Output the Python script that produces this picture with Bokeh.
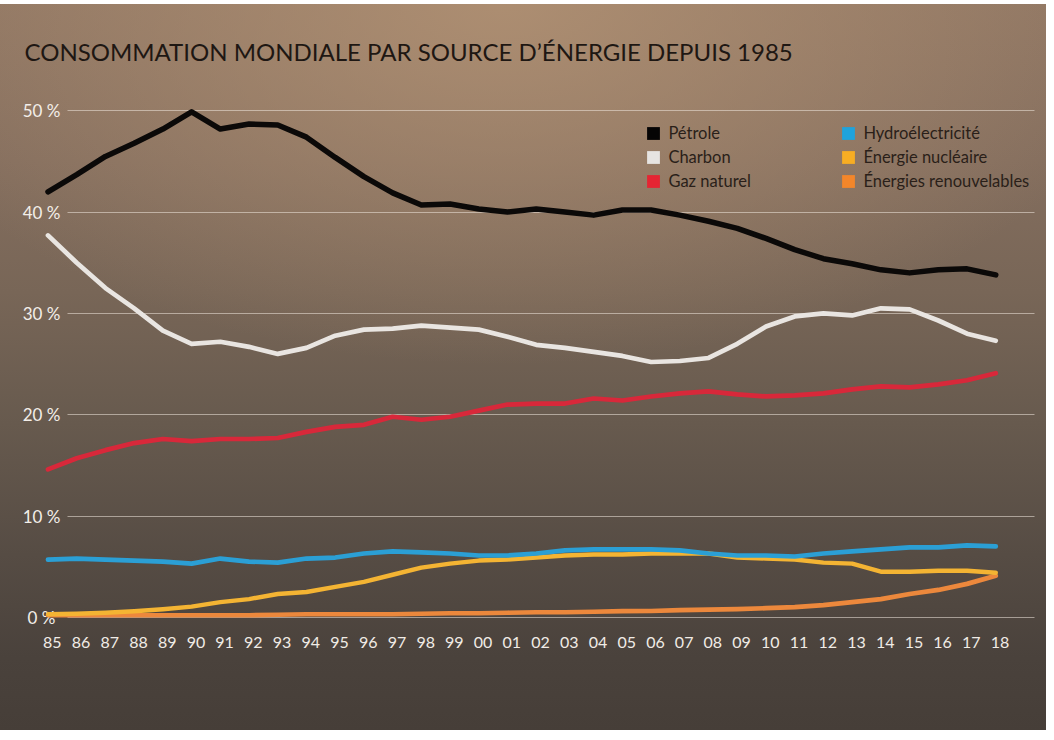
from bokeh.plotting import figure
from bokeh.models import Range1d, FixedTicker, Legend, LegendItem, Label, CustomJSTickFormatter
from bokeh.core.properties import value
from bokeh.embed import file_html
from bokeh.resources import INLINE

# ---------------- data ----------------
years = list(range(1985, 2019))
tick_labels = ["85", "86", "87", "88", "89", "90", "91", "92", "93", "94", "95", "96",
               "97", "98", "99", "00", "01", "02", "03", "04", "05", "06", "07", "08",
               "09", "10", "11", "12", "13", "14", "15", "16", "17", "18"]

petrole = [42.0, 43.7, 45.5, 46.8, 48.2, 49.9, 48.2, 48.7, 48.6, 47.4, 45.4, 43.5,
           41.9, 40.7, 40.8, 40.3, 40.0, 40.3, 40.0, 39.7, 40.2, 40.2, 39.7, 39.1,
           38.4, 37.4, 36.3, 35.4, 34.9, 34.3, 34.0, 34.3, 34.4, 33.8]
charbon = [37.7, 35.0, 32.5, 30.5, 28.3, 27.0, 27.2, 26.7, 26.0, 26.6, 27.8, 28.4,
           28.5, 28.8, 28.6, 28.4, 27.7, 26.9, 26.6, 26.2, 25.8, 25.2, 25.3, 25.6,
           27.0, 28.7, 29.7, 30.0, 29.8, 30.5, 30.4, 29.3, 28.0, 27.3]
gaz = [14.6, 15.7, 16.5, 17.2, 17.6, 17.4, 17.6, 17.6, 17.7, 18.3, 18.8, 19.0,
       19.8, 19.5, 19.8, 20.4, 21.0, 21.1, 21.1, 21.6, 21.4, 21.8, 22.1, 22.3,
       22.0, 21.8, 21.9, 22.1, 22.5, 22.8, 22.7, 23.0, 23.4, 24.1]
hydro = [5.7, 5.8, 5.7, 5.6, 5.5, 5.3, 5.8, 5.5, 5.4, 5.8, 5.9, 6.3,
         6.5, 6.4, 6.3, 6.1, 6.1, 6.3, 6.6, 6.7, 6.7, 6.7, 6.6, 6.3,
         6.1, 6.1, 6.0, 6.3, 6.5, 6.7, 6.9, 6.9, 7.1, 7.0]
nucleaire = [0.3, 0.35, 0.45, 0.6, 0.8, 1.05, 1.5, 1.8, 2.3, 2.5, 3.0, 3.5,
             4.2, 4.9, 5.3, 5.6, 5.7, 5.9, 6.1, 6.2, 6.2, 6.3, 6.3, 6.3,
             5.9, 5.8, 5.7, 5.4, 5.3, 4.5, 4.5, 4.6, 4.6, 4.4]
renouvelables = [0.2, 0.2, 0.2, 0.2, 0.2, 0.2, 0.2, 0.2, 0.25, 0.3, 0.3, 0.3,
                 0.3, 0.35, 0.4, 0.4, 0.45, 0.5, 0.5, 0.55, 0.6, 0.62, 0.7, 0.75,
                 0.8, 0.9, 1.0, 1.2, 1.5, 1.8, 2.3, 2.7, 3.3, 4.1]

series_names = ["Pétrole", "Charbon", "Gaz naturel",
                "Hydroélectricité", "Énergie nucléaire", "Énergies renouvelables"]
series_values = [petrole, charbon, gaz, hydro, nucleaire, renouvelables]
series_colors = ["#0b0908", "#e9e5e1", "#d8283a", "#2b9fd5", "#f4b433", "#ec883c"]
legend_colors = ["#050404", "#e6e4e2", "#e52533", "#1fa3dc", "#f7ad23", "#f3862a"]

y_ticks = [0, 10, 20, 30, 40, 50]
y_labels = ["0 %", "10 %", "20 %", "30 %", "40 %", "50 %"]

title_text = "CONSOMMATION MONDIALE PAR SOURCE D’ÉNERGIE DEPUIS 1985"

# ---------------- geometry ----------------
W, H = 1046, 730
FRAME_H = 628
PX_YEAR = 28.72
X0_PX = 47.5           # pixel of first year inside frame
PX_PCT = 10.13
Y0_PX = 616.8          # pixel (from top) of 0 %

xs = years[0] - X0_PX / PX_YEAR
xe = xs + W / PX_YEAR
ye = Y0_PX / PX_PCT
ys = -(FRAME_H - Y0_PX) / PX_PCT

p = figure(width=W, height=H, x_range=Range1d(xs, xe), y_range=Range1d(ys, ye),
           output_backend="svg", toolbar_location=None, y_axis_location=None,
           min_border_left=0, min_border_right=0, min_border_top=0,
           min_border_bottom=H - FRAME_H)

p.border_fill_color = None
p.background_fill_color = None
p.outline_line_color = None
p.styles = {
    "background": (
        "linear-gradient(#ffffff, #ffffff) top left / 100% 4px no-repeat, "
        "radial-gradient(ellipse 62% 50% at 48% 0%, rgba(178,146,116,0.85) 0%, rgba(178,146,116,0) 100%), "
        "linear-gradient(180deg, #8f7663 0%, #846e5e 22%, #786657 40%, #675a4e 58%, "
        "#564c44 76%, #4a423c 90%, #463e38 100%)"
    )
}

# grid
g = p.ygrid[0]
g.ticker = FixedTicker(ticks=y_ticks)
g.grid_line_color = "#efe6dc"
g.grid_line_alpha = 0.55
g.grid_line_width = 1
if "cross_bounds" in g.properties():
    g.cross_bounds = (xs + (75 - 8) / PX_YEAR, xs + (1042 - 8) / PX_YEAR)
p.xgrid.grid_line_color = None

# x axis (labels sit slightly right of each data point, as in the original)
ax = p.xaxis[0]
ax.ticker = FixedTicker(ticks=[yr + 0.15 for yr in years])
ax.formatter = CustomJSTickFormatter(args=dict(labels=tick_labels, first=years[0]),
                                     code="return labels[Math.round(tick) - first]")
ax.axis_line_color = None
ax.major_tick_line_color = None
ax.minor_tick_line_color = None
ax.major_tick_out = 0
ax.major_tick_in = 0
ax.major_label_standoff = 8
ax.major_label_text_font = "Lato"
ax.major_label_text_font_size = "16px"
ax.major_label_text_color = "#f1ece6"

# y labels (inside the frame, as in the original)
p.text(x=[xs + 41 / PX_YEAR] * len(y_ticks), y=y_ticks, text=y_labels,
       text_align="center", text_baseline="middle",
       text_font=value("Lato"), text_font_size="17px", text_color="#f3eee9")

# lines (drawn bottom-up)
widths = [5.5, 4.7, 4.7, 4.7, 4.4, 4.7]
order = [5, 4, 3, 2, 1, 0]
for k in order:
    p.line(years, series_values[k], line_color=series_colors[k], line_width=widths[k],
           line_join="round", line_cap="round")

# title
p.add_layout(Label(x=xs + 24 / PX_YEAR, y=(Y0_PX - 51) / PX_PCT, text=title_text,
                   text_font="Lato", text_font_size="24px", text_color="#1e1713",
                   text_baseline="alphabetic", text_align="left"))

# legend swatches: zero-area quads on the series data (invisible in the plot,
# drawn as filled squares by the legend)
swatches = [p.quad(left=years, right=years, top=series_values[i], bottom=series_values[i],
                   fill_color=legend_colors[i], line_color=None)
            for i in range(len(series_names))]


def make_legend(idx, x_px):
    return Legend(items=[LegendItem(label=series_names[i], renderers=[swatches[i]]) for i in idx],
                  location=(x_px, FRAME_H - 191), orientation="vertical",
                  glyph_width=16, glyph_height=16, label_height=16, spacing=4,
                  padding=0, margin=0, label_standoff=7,
                  label_text_font="Lato", label_text_font_size="16.5px",
                  label_text_color="#2a1f19", background_fill_alpha=0,
                  border_line_color=None)


p.add_layout(make_legend([0, 1, 2], 645.4))
p.add_layout(make_legend([3, 4, 5], 840.4))

open("out.html", "w").write(file_html(p, INLINE))
